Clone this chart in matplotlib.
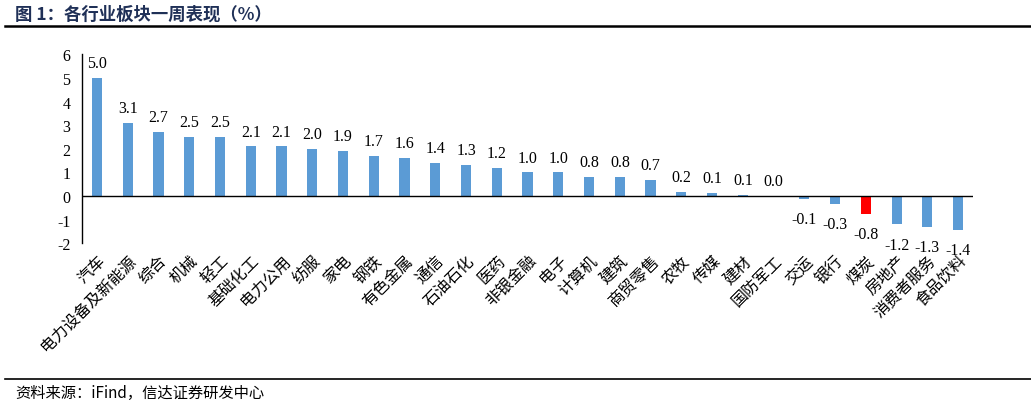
import matplotlib.pyplot as plt
import numpy as np

plt.rcParams['font.family'] = ['Noto Sans CJK SC', 'DejaVu Sans']
plt.rcParams['axes.unicode_minus'] = False

industries = ['汽车', '电力设备及新能源', '综合', '机械', '轻工', '基础化工', '电力公用',
              '纺服', '家电', '钢铁', '有色金属', '通信', '石油石化', '医药', '非银金融',
              '电子', '计算机', '建筑', '商贸零售', '农牧', '传媒', '建材', '国防军工',
              '交运', '银行', '煤炭', '房地产', '消费者服务', '食品饮料']
weekly_pct = [5.0, 3.1, 2.7, 2.5, 2.5, 2.1, 2.1, 2.0, 1.9, 1.7, 1.6, 1.4, 1.3, 1.2, 1.0,
              1.0, 0.8, 0.8, 0.7, 0.17, 0.12, 0.06, 0.0, -0.12, -0.32, -0.75, -1.2, -1.3, -1.42]
highlight = '煤炭'

fig = plt.figure(figsize=(10.31, 4.06), dpi=100)
ax = fig.add_axes([0.0792, 0.398, 0.865, 0.466])

x = np.arange(len(industries))
colors = ['#FF0000' if n == highlight else '#5B9BD5' for n in industries]
ax.bar(x, weekly_pct, width=0.33, color=colors, zorder=2)

for xi, v in zip(x, weekly_pct):
    if v >= 0:
        ax.annotate(f'{v:.1f}', (xi, v), xytext=(0, 5), textcoords='offset points',
                    ha='center', va='bottom', fontsize=11.5, family='Liberation Serif')
    else:
        ax.annotate(f'{v:.1f}', (xi, v), xytext=(0, -9), textcoords='offset points',
                    ha='center', va='top', fontsize=11.5, family='Liberation Serif')

ax.axhline(0, color='black', linewidth=1, zorder=3)
ax.set_xlim(-0.5, len(industries) - 0.5)
ax.set_ylim(-2, 6)
ax.set_yticks(range(-2, 7))
ax.set_yticklabels([str(t) for t in range(-2, 7)], family='Liberation Serif', fontsize=11.5)
ax.tick_params(axis='y', length=0, pad=8)
ax.set_xticks(x)
ax.set_xticklabels(industries, rotation=45, ha='right', rotation_mode='anchor', fontsize=11.5)
ax.tick_params(axis='x', length=0, pad=6)
for s in ['top', 'right', 'bottom']:
    ax.spines[s].set_visible(False)
ax.spines['left'].set_linewidth(1)

# title and source
fig.text(0.015, 0.965, '图 1：各行业板块一周表现（%）', fontsize=12.5, fontweight='bold',
         color='#1F3057', ha='left', va='center')
fig.add_artist(plt.Line2D([0.005, 1.0], [0.933, 0.933], color='black', linewidth=1.8))
fig.add_artist(plt.Line2D([0.005, 1.0], [0.063, 0.063], color='black', linewidth=1.2))
fig.text(0.015, 0.03, '资料来源：iFind，信达证券研发中心', fontsize=11, style='italic',
         ha='left', va='center')

plt.savefig('out.png', dpi=100)
plt.close()
